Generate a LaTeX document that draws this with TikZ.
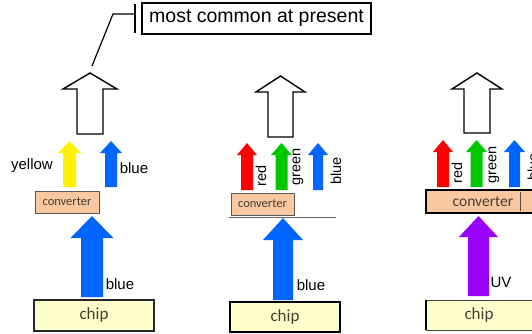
\documentclass[tikz,border=0pt]{standalone}
\usepackage{fontspec}
\setmainfont{Liberation Sans}
\newfontfamily\boxfont{Carlito}
\definecolor{peach}{RGB}{250,200,160}
\definecolor{chipfill}{RGB}{255,255,204}
\definecolor{ablue}{RGB}{0,102,255}
\definecolor{agreen}{RGB}{0,200,0}
\definecolor{apurple}{RGB}{153,0,255}
\definecolor{boxtext}{RGB}{70,60,50}
% \uparr{style}{cx}{tip y}{head half}{head base y}{shaft half}{bottom y}
\newcommand\uparr[7]{%
  \path[#1] (#2,#3) -- (#2+#4,#5) -- (#2+#6,#5) -- (#2+#6,#7) -- (#2-#6,#7)
    -- (#2-#6,#5) -- (#2-#4,#5) -- cycle;}
\tikzset{
  hollow/.style={draw=black,fill=white,line width=1.4pt,line join=miter},
  lbl/.style={font=\fontsize{15}{15}\selectfont,inner sep=0pt},
  rlbl/.style={font=\fontsize{14.5}{14.5}\selectfont,inner sep=0pt,rotate=90},
  convbox/.style={draw=black!65,fill=peach,line width=1pt},
  chipbox/.style={draw=black!85,fill=chipfill,line width=1.2pt},
  convtxt/.style={font=\boxfont\fontsize{12.5}{12.5}\selectfont,text=boxtext,inner sep=0pt},
  chiptxt/.style={font=\boxfont\fontsize{17}{17}\selectfont,text=boxtext,inner sep=0pt},
}
\begin{document}
\begin{tikzpicture}[x=1pt,y=-1pt]
\useasboundingbox (0,0) rectangle (532,333);
% callout
\node[draw=black,line width=1.4pt,minimum width=229pt,minimum height=31pt,inner sep=0pt,
  font=\fontsize{19.5}{19.5}\selectfont] (note) at (256.5,18.5) {most common at present};
\coordinate (barT) at (135,4);
\coordinate (barB) at (135,33);
\coordinate (lead) at (92,66);
\draw[line width=1.8pt] (barT) -- (barB);
\draw[line width=1.2pt] (lead) -- (113,14) -- (135,14);

% ---------- panel 1 ----------
\uparr{hollow}{90}{73}{27}{89}{13}{134}
\uparr{fill=yellow}{69.5}{141}{11.5}{153}{6.5}{187}
\uparr{fill=ablue}{111}{141}{11}{153}{6}{187}
\uparr{fill=ablue}{92}{216}{21.5}{238}{11}{297}
\node[lbl] (y1) at (32,166) {yellow};
\node[lbl] (b1) at (134,168) {blue};
\node[lbl] (b1b) at (120,284) {blue};
\draw[convbox] (35,191) rectangle (99,213);
\node[convtxt] (c1) at (67,202) {converter};
\draw[chipbox] (34,300) rectangle (154,331);
\node[chiptxt] (ch1) at (94,315) {chip};

% ---------- panel 2 ----------
\uparr{hollow}{280.5}{76}{24.5}{92}{12.5}{137}
\uparr{fill=red}{247}{143}{10}{155}{6}{190}
\uparr{fill=agreen}{281.5}{143}{10.5}{155}{6}{190}
\uparr{fill=ablue}{318}{143}{10}{155}{5}{190}
\uparr{fill=ablue}{283}{218}{20}{240}{10}{300}
\node[rlbl] (r2) at (261,176) {red};
\node[rlbl] (g2) at (298,167) {green};
\node[rlbl] (bl2) at (336,171) {blue};
\node[lbl] (b2) at (311,285) {blue};
\draw[convbox] (231,193) rectangle (294,215);
\node[convtxt] (c2) at (262.5,204) {converter};
\draw[black!60,line width=0.8pt] (229,217) -- (336,217);
\draw[draw=black,fill=chipfill,line width=1.8pt] (230,302) rectangle (340,332);
\node[chiptxt] (ch2) at (285,317) {chip};

% ---------- panel 3 ----------
\uparr{hollow}{477}{73}{25}{89}{13}{133}
\uparr{fill=red}{443}{140}{10}{152}{6}{187}
\uparr{fill=agreen}{476.5}{140}{10.5}{152}{6}{187}
\uparr{fill=ablue}{514.5}{140}{10.5}{152}{5.5}{187}
\uparr{fill=apurple}{478.5}{216}{19.5}{237}{10.5}{296}
\node[rlbl] (r3) at (457,173) {red};
\node[rlbl] (g3) at (494,165) {green};
\node[rlbl] (bl3) at (533,167) {blue};
\node[lbl] (uv) at (501,282) {UV};
\draw[draw=black,fill=peach,line width=1.2pt] (532,190) -- (426,190) -- (426,213) -- (532,213);
\draw[black!70,line width=1pt] (520,192) -- (520,211);
\node[convtxt,font=\boxfont\fontsize{15.5}{15.5}\selectfont] (c3) at (483,202) {converter};
\path[fill=chipfill] (426,300) rectangle (532,330);
\draw[black!75,line width=0.8pt] (532,300) -- (426,300) (426,330) -- (532,330);
\draw[black,line width=1.8pt] (426,300) -- (426,330);
\node[chiptxt] (ch3) at (479,315) {chip};
\end{tikzpicture}
\end{document}
